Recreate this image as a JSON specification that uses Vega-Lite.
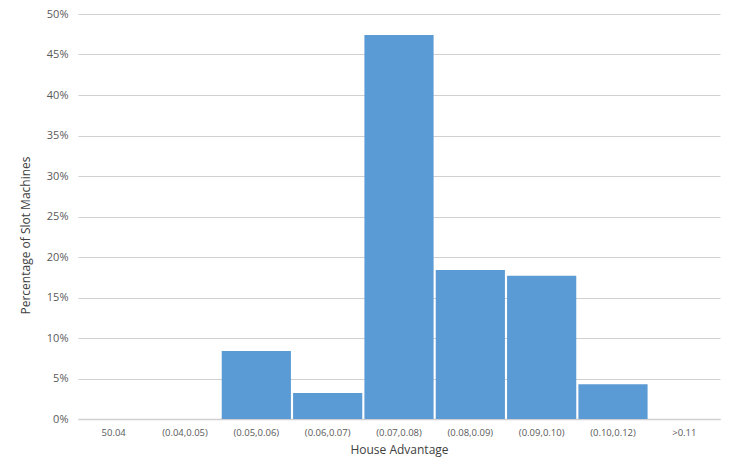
{
  "$schema": "https://vega.github.io/schema/vega-lite/v6.json",
  "autosize": {"type": "none"},
  "padding": {"left": 78, "top": 14, "right": 30, "bottom": 50},
  "width": 642,
  "height": 405,
  "background": "#ffffff",
  "data": {
    "values": [
      {"range": "50.04", "pct": 0},
      {"range": "(0.04,0.05)", "pct": 0},
      {"range": "(0.05,0.06)", "pct": 0.084},
      {"range": "(0.06,0.07)", "pct": 0.032},
      {"range": "(0.07,0.08)", "pct": 0.474},
      {"range": "(0.08,0.09)", "pct": 0.184},
      {"range": "(0.09,0.10)", "pct": 0.177},
      {"range": "(0.10,0.12)", "pct": 0.043},
      {"range": ">0.11", "pct": 0}
    ]
  },
  "mark": {"type": "bar", "color": "#5b9bd5"},
  "encoding": {
    "x": {
      "field": "range",
      "type": "nominal",
      "sort": null,
      "scale": {"paddingInner": 0.03, "paddingOuter": 0.015},
      "axis": {
        "title": "House Advantage",
        "labelAngle": 0,
        "labelFont": "Open Sans",
        "labelFontSize": 9.5,
        "labelColor": "#595959",
        "labelPadding": 8,
        "ticks": false,
        "domainColor": "#d0d0d0",
        "domainWidth": 1.5,
        "titleFont": "Open Sans",
        "titleFontSize": 12,
        "titleFontWeight": "normal",
        "titleColor": "#404040",
        "titlePadding": 8
      }
    },
    "y": {
      "field": "pct",
      "type": "quantitative",
      "scale": {"domain": [0, 0.5]},
      "axis": {
        "title": "Percentage of Slot Machines",
        "format": ".0%",
        "values": [0, 0.05, 0.1, 0.15, 0.2, 0.25, 0.3, 0.35, 0.4, 0.45, 0.5],
        "labelOverlap": false,
        "domain": false,
        "ticks": false,
        "labelFont": "Open Sans",
        "labelFontSize": 11,
        "labelColor": "#595959",
        "labelPadding": 10,
        "gridColor": "#d0d0d0",
        "gridWidth": 1.2,
        "titleFont": "Open Sans",
        "titleFontSize": 12,
        "titleFontWeight": "normal",
        "titleColor": "#404040",
        "titlePadding": 14,
        "titleY": 221
      }
    }
  },
  "config": {"view": {"stroke": null}}
}
